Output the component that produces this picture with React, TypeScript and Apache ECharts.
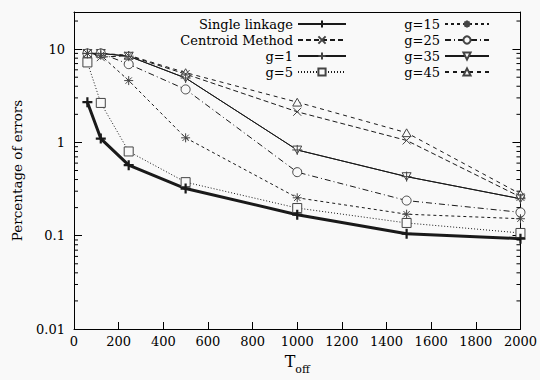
import React, { useEffect, useRef } from "react";
import * as echarts from "echarts";

const xValues = [60, 120, 245, 500, 1000, 1490, 2000];
const singleLinkage = [2.7, 1.1, 0.57, 0.32, 0.168, 0.105, 0.093];
const centroidMethod = [9.0, 8.2, 8.5, 5.4, 2.13, 1.05, 0.26];
const g1 = [9.0, 9.0, 8.4, 4.9, 0.83, 0.43, 0.249];
const g5 = [7.2, 2.65, 0.8, 0.375, 0.198, 0.137, 0.107];
const g15 = [9.0, 8.6, 4.6, 1.12, 0.255, 0.17, 0.152];
const g25 = [9.0, 9.0, 6.9, 3.7, 0.48, 0.238, 0.178];
const g35 = [9.0, 9.0, 8.4, 4.9, 0.83, 0.43, 0.249];
const g45 = [9.0, 9.0, 8.6, 5.6, 2.7, 1.27, 0.28];

const xTicks = { min: 0, max: 2000, interval: 200 };
const yRange = { min: 0.01, max: 25 };

const FONT = "DejaVu Serif";
const FS = 13;
const BG = "#f9f9f9";
const LINE = "#1a1a1a";
const MARK = "#444";

const PLUS = "path://M0,5L10,5M5,0L5,10";
const CROSS = "path://M0,0L10,10M10,0L0,10";
const STAR = "path://M0,5L10,5M5,0L5,10M1.5,1.5L8.5,8.5M8.5,1.5L1.5,8.5";
const TRI_DOWN = "path://M0,0L10,0L5,8.66Z";
const TRI_UP = "path://M5,0L10,8.66L0,8.66Z";

function pairs(ys: number[]) {
  return xValues.map((x, i) => [x, ys[i]]);
}

function minorTickValues() {
  const out: number[] = [];
  for (let k = -2; k <= 1; k++) {
    for (let m = 2; m <= 9; m++) {
      const v = m * Math.pow(10, k);
      if (v < yRange.max) out.push(v);
    }
  }
  return out;
}

export default function App() {
  const ref = useRef<HTMLDivElement>(null);
  useEffect(() => {
    if (!ref.current) return;
    const chart = echarts.init(ref.current, undefined, { renderer: "svg" });

    const mk = (
      name: string,
      ys: number[],
      symbol: string,
      size: number,
      lineType: any,
      lineWidth: number,
      stroked: boolean,
      markWidth = 1
    ) => ({
      name,
      type: "line",
      data: pairs(ys),
      symbol,
      symbolSize: size,
      symbolKeepAspect: true,
      showSymbol: true,
      lineStyle: { color: LINE, width: lineWidth, type: lineType },
      itemStyle: stroked
        ? { color: "none", borderColor: lineWidth > 2 ? LINE : MARK, borderWidth: markWidth }
        : { color: BG, borderColor: MARK, borderWidth: 1 },
      emphasis: { disabled: true },
      z: 3,
    });

    const series: any[] = [
      mk("g=45", g45, TRI_UP, 9, [4, 4], 1, false),
      mk("g=35", g35, TRI_DOWN, 9, "solid", 1, false),
      mk("g=25", g25, "circle", 9, [6, 3, 1, 3], 1, false),
      mk("g=15", g15, STAR, 9, [3, 3], 1, true),
      mk("g=5", g5, "rect", 9, [1, 2], 1, false),
      mk("g=1", g1, PLUS, 10, "solid", 1, true),
      mk("Centroid Method", centroidMethod, CROSS, 8, [5, 3], 1, true),
      mk("Single linkage", singleLinkage, PLUS, 10, "solid", 3, true, 2.2),
      {
        type: "custom",
        name: "minorTicks",
        silent: true,
        data: minorTickValues().map((v) => [0, v]),
        renderItem: (params: any, api: any) => {
          const cs = params.coordSys;
          const y = api.coord([0, api.value(1)])[1];
          const st = { stroke: "#000", lineWidth: 1 };
          return {
            type: "group",
            children: [
              { type: "line", shape: { x1: cs.x, y1: y, x2: cs.x + 4, y2: y }, style: st },
              { type: "line", shape: { x1: cs.x + cs.width, y1: y, x2: cs.x + cs.width - 4, y2: y }, style: st },
            ],
          };
        },
        z: 5,
      },
    ];

    const legendItem = (name: string, right: number, top: number, width: number) => ({
      data: [name],
      right,
      top,
      orient: "vertical",
      align: "right",
      itemWidth: width,
      itemHeight: 9,
      padding: 0,
      selectedMode: false,
      textStyle: { fontFamily: FONT, fontSize: FS, lineHeight: 14, color: "#000" },
    });

    const tops = [17, 33, 49, 65];
    const legends = [
      legendItem("Single linkage", 193, tops[0], 48),
      legendItem("Centroid Method", 193, tops[1], 48),
      legendItem("g=1", 193, tops[2], 48),
      legendItem("g=5", 193, tops[3], 48),
      legendItem("g=15", 50, tops[0], 44),
      legendItem("g=25", 50, tops[1], 44),
      legendItem("g=35", 50, tops[2], 44),
      legendItem("g=45", 50, tops[3], 44),
    ];

    const axisLine = { show: true, onZero: false, lineStyle: { color: "#000", width: 1 } };

    chart.setOption({
      animation: false,
      backgroundColor: BG,
      textStyle: { fontFamily: FONT },
      grid: { left: 74, right: 15, top: 12, bottom: 50 },
      legend: legends,
      xAxis: [
        {
          type: "value",
          min: xTicks.min,
          max: xTicks.max,
          interval: xTicks.interval,
          position: "bottom",
          axisLine,
          axisTick: { show: true, inside: true, length: 7, lineStyle: { color: "#000" } },
          axisLabel: {
            fontFamily: FONT,
            fontSize: FS,
            color: "#000",
            margin: 6,
            formatter: (v: number) => String(v),
          },
          splitLine: { show: false },
          name: "{t|T}{s|off}",
          nameLocation: "middle",
          nameGap: 24,
          nameTextStyle: {
            fontFamily: FONT,
            rich: {
              t: { fontFamily: FONT, fontSize: 16, color: "#000", lineHeight: 22, verticalAlign: "top" },
              s: { fontFamily: FONT, fontSize: 11, color: "#000", lineHeight: 22, verticalAlign: "bottom", padding: [9, 0, 0, 0] },
            },
          },
        },
        {
          type: "value",
          min: xTicks.min,
          max: xTicks.max,
          interval: xTicks.interval,
          position: "top",
          axisLine,
          axisTick: { show: false },
          axisLabel: { show: false },
          splitLine: { show: false },
        },
      ],
      yAxis: [
        {
          type: "log",
          logBase: 10,
          min: yRange.min,
          max: yRange.max,
          position: "left",
          axisLine,
          axisTick: { show: true, inside: true, length: 8, lineStyle: { color: "#000" } },
          axisLabel: {
            fontFamily: FONT,
            fontSize: FS,
            color: "#000",
            margin: 9,
            showMaxLabel: false,
            formatter: (v: number) => String(+Number(v).toPrecision(3)),
          },
          splitLine: { show: false },
          name: "Percentage of errors",
          nameLocation: "middle",
          nameGap: 50,
          nameTextStyle: { fontFamily: FONT, fontSize: 13.5, color: "#000" },
        },
        {
          type: "log",
          logBase: 10,
          min: yRange.min,
          max: yRange.max,
          position: "right",
          axisLine,
          axisTick: { show: true, inside: true, length: 8, lineStyle: { color: "#000" } },
          axisLabel: { show: false },
          splitLine: { show: false },
        },
      ],
      series,
    });

    return () => chart.dispose();
  }, []);

  return (
    <div
      ref={ref}
      style={{ position: "fixed", left: 0, top: 0, width: 540, height: 380 }}
    />
  );
}
